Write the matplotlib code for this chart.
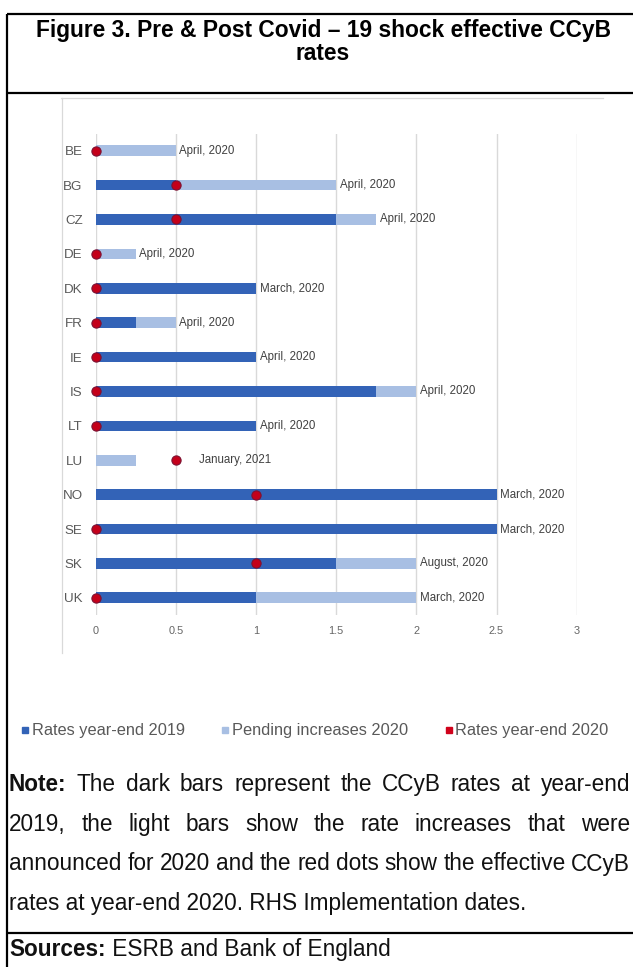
import matplotlib
matplotlib.use("Agg")
import matplotlib.pyplot as plt
from matplotlib.lines import Line2D

# ---------------------------------------------------------------------------
# Data
# ---------------------------------------------------------------------------
countries = ["BE", "BG", "CZ", "DE", "DK", "FR", "IE", "IS", "LT", "LU",
             "NO", "SE", "SK", "UK"]
rates_2019 = [0, 0.5, 1.5, 0, 1.0, 0.25, 1.0, 1.75, 1.0, 0, 2.5, 2.5, 1.5, 1.0]
pending_2020 = [0.5, 1.0, 0.25, 0.25, 0, 0.25, 0, 0.25, 0, 0.25, 0, 0, 0.5, 1.0]
rates_2020 = [0, 0.5, 0.5, 0, 0, 0, 0, 0, 0, 0.5, 1.0, 0, 1.0, 0]
impl_dates = ["April, 2020", "April, 2020", "April, 2020", "April, 2020",
              "March, 2020", "April, 2020", "April, 2020", "April, 2020",
              "April, 2020", "January, 2021", "March, 2020", "March, 2020",
              "August, 2020", "March, 2020"]
x_ticks = [0, 0.5, 1, 1.5, 2, 2.5, 3]
x_tick_labels = ["0", "0.5", "1", "1.5", "2", "2.5", "3"]
legend_labels = ["Rates year-end 2019", "Pending increases 2020",
                 "Rates year-end 2020"]

title_lines = ["Figure 3. Pre & Post Covid \u2013 19 shock effective CCyB",
               "rates"]
note_lines = [
    [("Note:", True), ("The", False), ("dark", False), ("bars", False),
     ("represent", False), ("the", False), ("CCyB", False), ("rates", False),
     ("at", False), ("year-end", False)],
    [("2019,", False), ("the", False), ("light", False), ("bars", False),
     ("show", False), ("the", False), ("rate", False), ("increases", False),
     ("that", False), ("were", False)],
    [("announced", False), ("for", False), ("2020", False), ("and", False),
     ("the", False), ("red", False), ("dots", False), ("show", False),
     ("the", False), ("effective", False), ("CCyB", False)],
]
note_last = "rates at year-end 2020. RHS Implementation dates."
sources_head = "Sources:"
sources_body = " ESRB and Bank of England"

# ---------------------------------------------------------------------------
# Styling
# ---------------------------------------------------------------------------
plt.rcParams['font.family'] = ['Liberation Sans', 'DejaVu Sans']
DARK = "#3363B7"
LIGHT = "#A8BFE3"
RED = "#C4001A"
RED_EDGE = "#7C1232"
GRID = "#D9D9D9"

W, H = 633, 967
fig = plt.figure(figsize=(W / 100, H / 100), dpi=100)
fig.patch.set_facecolor("white")


def fx(x):
    return x / W


def fy(y):
    return 1 - y / H


# ---------------------------------------------------------------------------
# Chart
# ---------------------------------------------------------------------------
ax = fig.add_axes([fx(95.7), fy(615), (576.7 - 95.7) / W, (615 - 133.5) / H])
ypos = list(range(len(countries)))

ax.barh(ypos, rates_2019, height=0.31, color=DARK, linewidth=0, zorder=2)
ax.barh(ypos, pending_2020, left=rates_2019, height=0.31, color=LIGHT,
        linewidth=0, zorder=2)
ax.scatter(rates_2020, ypos, s=44, color=RED, edgecolors=RED_EDGE,
           linewidths=0.8, zorder=4, clip_on=False)

for i, label in enumerate(impl_dates):
    bar_end = rates_2019[i] + pending_2020[i]
    if rates_2020[i] > bar_end:
        anchor, offset = rates_2020[i], 16.5
    else:
        anchor, offset = bar_end, 2.5
    ax.annotate(label, (anchor, i), xytext=(offset, 0),
                textcoords="offset points", va="center", ha="left",
                fontsize=8.3, color="#404040", zorder=5)

ax.set_xlim(0, 3)
ax.set_ylim(len(countries) - 0.5, -0.5)
ax.set_xticks(x_ticks)
ax.set_xticklabels(x_tick_labels, fontsize=7.9, color="#666666")
ax.set_yticks(ypos)
ax.set_yticklabels(countries, fontsize=9.6, color="#595959")
ax.tick_params(axis="x", length=0, pad=8)
ax.tick_params(axis="y", length=0, pad=9.4)
ax.xaxis.grid(True, color=GRID, linewidth=1.0)
ax.set_axisbelow(True)
for sp in ax.spines.values():
    sp.set_visible(False)
ax.patch.set_alpha(0)

# light frame around the chart area
fig.add_artist(Line2D([fx(61), fx(603)], [fy(98.3), fy(98.3)],
                      color=GRID, linewidth=0.9))
fig.add_artist(Line2D([fx(62), fx(62)], [fy(98.3), fy(653)],
                      color=GRID, linewidth=0.9))

# ---------------------------------------------------------------------------
# Legend
# ---------------------------------------------------------------------------
legend_colors = [DARK, LIGHT, "#D0021B"]
legend_square_x = [24.5, 224.5, 448.5]
legend_text_x = [32, 232, 455]
for lab, col, sx, tx in zip(legend_labels, legend_colors, legend_square_x,
                            legend_text_x):
    fig.add_artist(Line2D([fx(sx)], [fy(730)], marker="s", markersize=4.6,
                          color=col, linestyle="none"))
    fig.text(fx(tx), fy(730), lab, fontsize=11.8, color="#595959",
             ha="left", va="center")

# ---------------------------------------------------------------------------
# Frame, title, note and sources
# ---------------------------------------------------------------------------
BORDER = dict(color="black", linewidth=1.6, solid_capstyle="butt")
fig.add_artist(Line2D([fx(6.5), fx(W)], [fy(14), fy(14)], **BORDER))
fig.add_artist(Line2D([fx(7.5), fx(7.5)], [fy(14), fy(H)], **BORDER))
fig.add_artist(Line2D([fx(7.5), fx(W)], [fy(93.3), fy(93.3)], **BORDER))
fig.add_artist(Line2D([fx(7.5), fx(W)], [fy(933), fy(933)], **BORDER))

for line, base in zip(title_lines, [36.5, 60.5]):
    fig.text(fx(323), fy(base), line, fontsize=16.4, fontweight="bold",
             ha="center", va="baseline", color="black")

NOTE_FS = 16.3
renderer = fig.canvas.get_renderer()


def justified_line(words, base, x0, x1):
    texts = [fig.text(0, fy(base), w, fontsize=NOTE_FS,
                      fontweight="bold" if b else "normal",
                      ha="left", va="baseline", color="#111111")
             for w, b in words]
    widths = [t.get_window_extent(renderer).width for t in texts]
    gap = (x1 - x0 - sum(widths)) / (len(texts) - 1)
    x = x0
    for t, w in zip(texts, widths):
        t.set_x(fx(x))
        x += w + gap


for words, base in zip(note_lines, [791, 831, 870.5]):
    justified_line(words, base, 9, 630)
fig.text(fx(9), fy(910), note_last, fontsize=NOTE_FS, ha="left",
         va="baseline", color="#111111")

head = fig.text(fx(9), fy(956), sources_head, fontsize=NOTE_FS,
                fontweight="bold", ha="left", va="baseline", color="#111111")
hw = head.get_window_extent(renderer).width
fig.text(fx(9 + hw), fy(956), sources_body, fontsize=NOTE_FS, ha="left",
         va="baseline", color="#111111")

fig.savefig("out.png", dpi=100, facecolor="white")
